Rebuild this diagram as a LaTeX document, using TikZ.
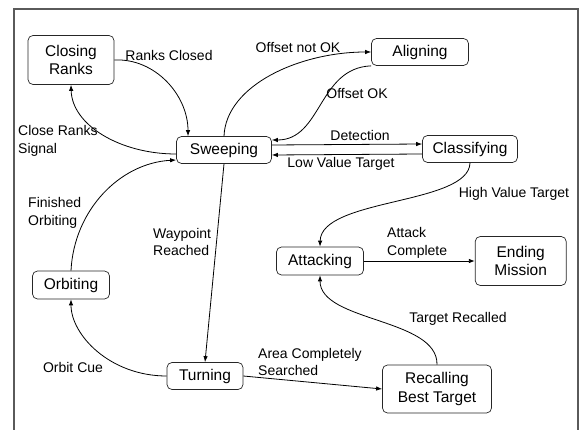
\documentclass[tikz,border=0pt]{standalone}
\usepackage{fontspec}
\setmainfont{Liberation Sans}
\usetikzlibrary{arrows.meta,positioning}
\definecolor{Frame}{HTML}{5A5A5A}
\definecolor{Edge}{HTML}{262626}
\newcommand{\statefont}{\fontsize{15.5}{18.5}\selectfont}
\newcommand{\lblfont}{\fontsize{14}{17.5}\selectfont}

\begin{document}
\begin{tikzpicture}[x=1pt,y=-1pt,
    state/.style={draw=Edge,line width=0.7pt,rounded corners=5pt,minimum height=27pt,inner sep=2pt,
      align=center,font=\statefont},
    lbl/.style={inner sep=0pt,align=left,font=\lblfont},
    arr/.style={-{Latex[length=6pt,width=4.5pt]},line width=0.8pt}
  ]
    \useasboundingbox (0,0) rectangle (583,430);
    \clip (0,0) rectangle (583,430);
    \draw[Frame,line width=1.6pt] (14,9) rectangle (578,450);

    % states
    \node[state,minimum width=86pt,minimum height=49pt] (closing) at (71,60) {Closing\\Ranks};
    \node[state,minimum width=97pt] (aligning) at (420,52) {Aligning};
    \node[state,minimum width=95pt] (sweeping) at (224,150) {Sweeping};
    \node[state,minimum width=95pt] (classifying) at (470,149) {Classifying};
    \node[state,minimum width=87pt,minimum height=28pt] (attacking) at (320,261) {Attacking};
    \node[state,minimum width=91pt,minimum height=49pt,right=111pt of attacking] (ending) {Ending\\Mission};
    \node[state,minimum width=77pt,minimum height=28pt] (orbiting) at (71,285) {Orbiting};
    \node[state,minimum width=76pt] (turning) at (205,376) {Turning};
    \node[state,minimum width=109pt,minimum height=48pt] (recalling) at (437,389) {Recalling\\Best Target};

    % transitions
    \draw[arr] (closing.east) .. controls (155,58) and (188,95) .. ([xshift=-36pt]sweeping.north);
    \draw[arr] ([yshift=-4pt]sweeping.west) .. controls (120,154) and (72,125) .. (closing.south);
    \draw[arr] (orbiting.north) .. controls (74,210) and (120,163) .. ([yshift=-10pt]sweeping.west);
    \draw[arr] (turning.west) .. controls (110,376) and (71,335) .. (orbiting.south);
    \draw[arr] (sweeping.south) -- (turning.north);
    \draw[arr] (turning.east) -- (recalling.west);
    \draw[arr] (recalling.north) .. controls (438,318) and (320,322) .. (attacking.south);
    \draw[arr] (classifying.south) .. controls (469,205) and (321,198) .. (attacking.north);
    \draw[arr] (sweeping.north) .. controls (226,85) and (300,52) .. (aligning.west);
    \draw[arr] (aligning.south west) .. controls (318,68) and (322,140) .. ([yshift=10pt]sweeping.east);
    \draw[arr] ([yshift=5pt]sweeping.east) -- ([yshift=5pt]classifying.west);
    \draw[arr] ([yshift=-5pt]classifying.west) -- ([yshift=-5pt]sweeping.east);
    \draw[arr] (attacking.east) -- (ending.west);

    % labels
    \node[lbl] (lclosed) at (169,55) {Ranks Closed};
    \node[lbl,anchor=west] (lsignal) at (18,141) {Close Ranks\\Signal};
    \node[lbl] (lnotok) at (298,48) {Offset not OK};
    \node[lbl] (lok) at (357,94) {Offset OK};
    \node[lbl] (ldetect) at (360,135) {Detection};
    \node[lbl] (llow) at (341,164) {Low Value Target};
    \node[lbl] (lhigh) at (514,194) {High Value Target};
    \node[lbl,anchor=west] (lattack) at (387,243) {Attack\\Complete};
    \node[lbl] (lrecalled) at (458,319) {Target Recalled};
    \node[lbl,anchor=west] (larea) at (258,362) {Area Completely\\Searched};
    \node[lbl] (lcue) at (73,367) {Orbit Cue};
    \node[lbl,anchor=west] (lfinished) at (28,213) {Finished\\Orbiting};
    \node[lbl,anchor=west] (lwaypoint) at (153,242) {Waypoint\\Reached};
  \end{tikzpicture}
\end{document}
